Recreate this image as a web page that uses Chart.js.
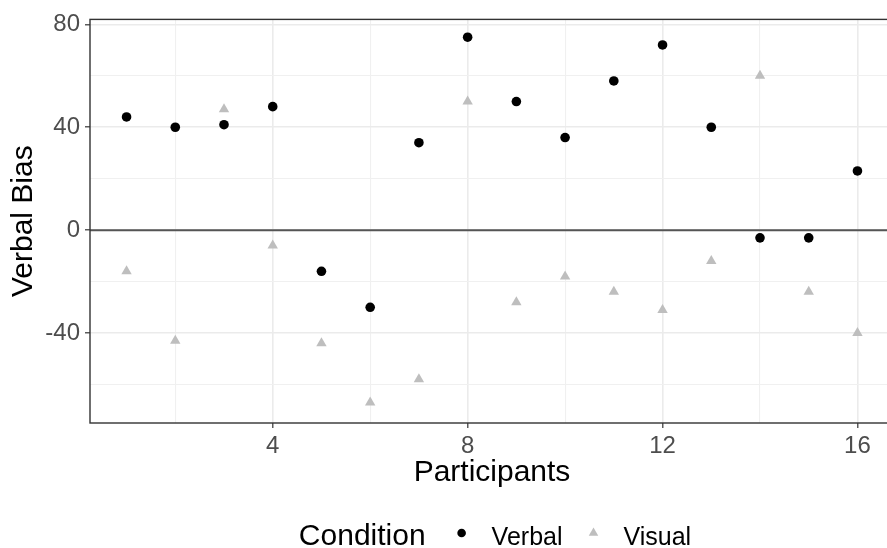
<!DOCTYPE html>
<html>
<head>
<meta charset="utf-8">
<script src="https://cdn.jsdelivr.net/npm/chart.js@4"></script>
<style>
  html, body { margin: 0; padding: 0; overflow: hidden; background: #fff; }
  #wrap { width: 900px; height: 548px; position: relative; }
</style>
</head>
<body>
<div id="wrap"><canvas id="c" width="900" height="548"></canvas></div>
<script>
const participants = [1,2,3,4,5,6,7,8,9,10,11,12,13,14,15,16];
const verbalBias = [44,40,41,48,-16,-30,34,75,50,36,58,72,40,-3,-3,23];
const visualBias = [-16,-43,47,-6,-44,-67,-58,50,-28,-18,-24,-31,-12,60,-24,-40];
const seriesNames = ['Verbal','Visual'];
const legendTitle = 'Condition';
const xTickLabels = [4,8,12,16];
const yTickLabels = [-40,0,40,80];

Chart.defaults.font.family = "'Liberation Sans', Arial, sans-serif";

const FONT = "'Liberation Sans', Arial, sans-serif";

const panelPlugin = {
  id: 'panel',
  beforeDatasetsDraw(chart) {
    const {ctx, chartArea: a, scales: {y}} = chart;
    const y0 = y.getPixelForValue(0);
    ctx.save();
    ctx.strokeStyle = '#555555';
    ctx.lineWidth = 2;
    ctx.beginPath();
    ctx.moveTo(a.left, y0);
    ctx.lineTo(a.right, y0);
    ctx.stroke();
    ctx.restore();
  },
  afterDatasetsDraw(chart) {
    const {ctx, chartArea: a} = chart;
    ctx.save();
    ctx.strokeStyle = '#333333';
    ctx.lineWidth = 1.4;
    ctx.strokeRect(a.left, a.top, a.right - a.left, a.bottom - a.top);
    ctx.restore();
  },
  afterDraw(chart) {
    const {ctx, chartArea: a} = chart;
    const ds = chart.data.datasets;
    ctx.save();
    ctx.textBaseline = 'alphabetic';
    ctx.textAlign = 'left';
    const titleFont = '30px ' + FONT;
    const itemFont = '25px ' + FONT;
    ctx.font = titleFont;
    const wTitle = ctx.measureText(legendTitle).width;
    ctx.font = itemFont;
    const w1 = ctx.measureText(ds[0].label).width;
    const w2 = ctx.measureText(ds[1].label).width;
    const gapToSym = 36, symToText = 30, textToSym = 31;
    const total = wTitle + gapToSym + symToText + w1 + textToSym + symToText + w2;
    let x = (a.left + a.right) / 2 + 3 - total / 2;
    const base = 545;
    const symY = 533;
    ctx.fillStyle = '#000000';
    ctx.font = titleFont;
    ctx.fillText(legendTitle, x, base);
    x += wTitle + gapToSym;
    // circle
    ctx.fillStyle = ds[0].backgroundColor;
    ctx.beginPath();
    ctx.arc(x, symY, 4.3, 0, Math.PI * 2);
    ctx.fill();
    x += symToText;
    ctx.fillStyle = '#000000';
    ctx.font = itemFont;
    ctx.fillText(ds[0].label, x, base);
    x += w1 + textToSym;
    // triangle
    const r = 5.5;
    ctx.fillStyle = ds[1].backgroundColor;
    ctx.beginPath();
    for (let i = 0; i < 3; i++) {
      const ang = -Math.PI / 2 + i * 2 * Math.PI / 3;
      const px = x + Math.cos(ang) * r, py = symY + Math.sin(ang) * r;
      if (i === 0) ctx.moveTo(px, py); else ctx.lineTo(px, py);
    }
    ctx.closePath();
    ctx.fill();
    x += symToText;
    ctx.fillStyle = '#000000';
    ctx.font = itemFont;
    ctx.fillText(ds[1].label, x, base);
    ctx.restore();
  }
};

new Chart(document.getElementById('c'), {
  type: 'scatter',
  data: {
    datasets: [
      {
        label: seriesNames[0],
        data: participants.map((p, i) => ({x: p, y: verbalBias[i]})),
        backgroundColor: '#000000',
        borderColor: '#000000',
        borderWidth: 0,
        pointStyle: 'circle',
        pointRadius: 4.8,
        pointHoverRadius: 4.8
      },
      {
        label: seriesNames[1],
        data: participants.map((p, i) => ({x: p, y: visualBias[i]})),
        backgroundColor: '#BEBEBE',
        borderColor: '#BEBEBE',
        borderWidth: 0,
        pointStyle: 'triangle',
        pointRadius: 6,
        pointHoverRadius: 6
      }
    ]
  },
  options: {
    responsive: false,
    animation: false,
    devicePixelRatio: 1,
    layout: { padding: { top: 17, right: 0, left: 0, bottom: 57 } },
    plugins: {
      legend: { display: false },
      tooltip: { enabled: false }
    },
    scales: {
      x: {
        type: 'linear',
        min: 0.25,
        max: 16.75,
        afterFit(s) { s.height = 68; },
        border: { display: false },
        grid: {
          color: c => xTickLabels.includes(c.tick && c.tick.value) ? '#EBEBEB' : '#F0F0F0',
          lineWidth: c => xTickLabels.includes(c.tick && c.tick.value) ? 1.6 : 1.1,
          tickColor: c => xTickLabels.includes(c.tick && c.tick.value) ? '#333333' : 'rgba(0,0,0,0)',
          tickLength: 5,
          tickWidth: 1.2
        },
        ticks: {
          stepSize: 2,
          includeBounds: false,
          autoSkip: false,
          maxRotation: 0,
          padding: 4,
          color: '#4D4D4D',
          font: { size: 24 },
          callback: v => xTickLabels.includes(v) ? String(v) : ''
        },
        title: {
          display: true,
          text: 'Participants',
          color: '#000000',
          font: { size: 30 },
          padding: { top: 0, bottom: 0 }
        }
      },
      y: {
        type: 'linear',
        min: -74.98,
        max: 81.93,
        afterFit(s) { s.width = 90; },
        border: { display: false },
        grid: {
          color: c => yTickLabels.includes(c.tick && c.tick.value) ? '#EBEBEB' : '#F0F0F0',
          lineWidth: c => yTickLabels.includes(c.tick && c.tick.value) ? 1.6 : 1.1,
          tickColor: c => yTickLabels.includes(c.tick && c.tick.value) ? '#333333' : 'rgba(0,0,0,0)',
          tickLength: 5,
          tickWidth: 1.2
        },
        ticks: {
          stepSize: 20,
          includeBounds: false,
          autoSkip: false,
          padding: 5,
          color: '#4D4D4D',
          font: { size: 24 },
          callback: v => yTickLabels.includes(v) ? String(v) : ''
        },
        title: {
          display: true,
          text: 'Verbal Bias',
          color: '#000000',
          font: { size: 30 },
          padding: { top: 6, bottom: 0 }
        }
      }
    }
  },
  plugins: [panelPlugin]
});
</script>
</body>
</html>
